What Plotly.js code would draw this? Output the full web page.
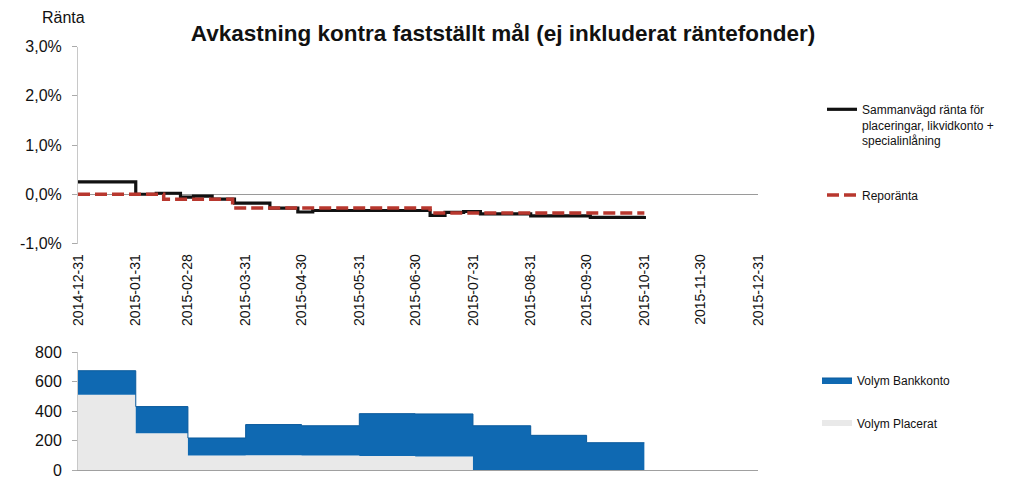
<!DOCTYPE html>
<html>
<head>
<meta charset="utf-8">
<script src="https://cdn.plot.ly/plotly-3.0.1.min.js"></script>
<style>html,body{margin:0;padding:0;background:#fff;}#chart{width:1033px;height:479px;}</style>
</head>
<body>
<div id="chart"></div>
<script>
// ---- data ----
const tickDates = ['2014-12-31','2015-01-31','2015-02-28','2015-03-31','2015-04-30','2015-05-31','2015-06-30','2015-07-31','2015-08-31','2015-09-30','2015-10-31','2015-11-30','2015-12-31'];
const rateTickVals = [-1, 0, 1, 2, 3];
const rateTickText = ['-1,0%', '0,0%', '1,0%', '2,0%', '3,0%'];
const volTickVals = [0, 200, 400, 600, 800];

const rateDates = ['2014-12-31','2015-01-31','2015-02-11','2015-02-24','2015-03-03','2015-03-13','2015-03-25','2015-04-13','2015-04-28','2015-05-06','2015-07-08','2015-07-16','2015-07-26','2015-08-04','2015-08-31','2015-10-02','2015-10-31'];
const sammanvagd = [0.25, 0.00, 0.02, -0.06, -0.04, -0.10, -0.18, -0.28, -0.36, -0.33, -0.43, -0.37, -0.35, -0.40, -0.44, -0.47, -0.44];

const repoDates = ['2014-12-31','2015-02-15','2015-03-24','2015-07-08','2015-10-31'];
const reporanta = [0.00, -0.10, -0.28, -0.38, -0.38];

const volDates = ['2014-12-31','2015-01-31','2015-02-28','2015-03-31','2015-04-30','2015-05-31','2015-06-30','2015-07-31','2015-08-31','2015-09-30','2015-10-31'];
const volPlacerat = [510, 250, 98, 100, 98, 95, 92, 0, 0, 0, 0];
const volBankkonto = [163, 180, 119, 208, 202, 287, 288, 300, 235, 185, 185];

// ---- layout helpers ----
const W = 1033, H = 479;
const px = v => v / W;
const py = v => (H - v) / H;
const FONT = 'Liberation Sans, Arial, sans-serif';

const traces = [
  {
    x: rateDates, y: sammanvagd, type: 'scatter', mode: 'lines',
    name: 'Sammanvägd ränta för<br>placeringar, likvidkonto +<br>specialinlåning',
    line: {color: '#111111', width: 3.2, shape: 'hv'},
    xaxis: 'x', yaxis: 'y', legend: 'legend', showlegend: true
  },
  {
    x: repoDates, y: reporanta, type: 'scatter', mode: 'lines',
    name: 'Reporänta',
    line: {color: '#b8372e', width: 3.5, shape: 'hv', dash: '12px,5px'},
    xaxis: 'x', yaxis: 'y', legend: 'legend2', showlegend: true
  },
  {
    x: volDates, y: volPlacerat, type: 'scatter', mode: 'none',
    name: 'Volym Placerat', stackgroup: 'vol',
    fillcolor: '#e9e9e9', line: {shape: 'hv', width: 0},
    xaxis: 'x2', yaxis: 'y2', legend: 'legend4', showlegend: true
  },
  {
    x: volDates, y: volBankkonto, type: 'scatter', mode: 'lines',
    name: 'Volym Bankkonto', stackgroup: 'vol',
    fillcolor: '#0f69b2', line: {shape: 'hv', width: 1, color: '#0a5a9c'},
    xaxis: 'x2', yaxis: 'y2', legend: 'legend3', showlegend: true
  }
];

const xRange = ['2014-12-31', '2015-12-31'];
const xDomain = [px(78), px(758)];

const legendBase = {
  bgcolor: 'rgba(0,0,0,0)', borderwidth: 0,
  font: {family: FONT, size: 12, color: '#111'},
  xanchor: 'left'
};

const layout = {
  width: W, height: H,
  margin: {l: 0, r: 0, t: 0, b: 0},
  showlegend: true,
  paper_bgcolor: '#ffffff', plot_bgcolor: 'rgba(0,0,0,0)',
  separators: ',.',
  font: {family: FONT, color: '#111'},
  title: {
    text: '<b>Avkastning kontra fastställt mål (ej inkluderat räntefonder)</b>',
    font: {family: FONT, size: 22.5, color: '#111'},
    x: px(503), xref: 'paper', xanchor: 'center',
    y: py(33), yref: 'container', yanchor: 'middle'
  },
  xaxis: {
    domain: xDomain, range: xRange, type: 'date', anchor: 'y',
    tickmode: 'array', tickvals: tickDates, ticktext: tickDates,
    tickangle: -90, ticks: '', showgrid: false, showline: false, zeroline: false,
    ticklabelstandoff: 7, ticklabeloverflow: 'allow',
    tickfont: {family: FONT, size: 14, color: '#111'}
  },
  yaxis: {
    domain: [py(243.5), py(46.5)], range: [-1, 3], anchor: 'x',
    tickmode: 'array', tickvals: rateTickVals, ticktext: rateTickText,
    ticks: 'outside', ticklen: 5, tickcolor: '#aaaaaa',
    showline: true, linecolor: '#c8c8c8', linewidth: 1,
    showgrid: false, zeroline: true, zerolinecolor: '#9a9a9a', zerolinewidth: 1,
    ticklabelstandoff: 7, ticklabeloverflow: 'allow',
    tickfont: {family: FONT, size: 16, color: '#111'}
  },
  xaxis2: {
    domain: xDomain, range: xRange, type: 'date', anchor: 'y2',
    showticklabels: false, ticks: '', showgrid: false, zeroline: false,
    showline: true, linecolor: '#a0a0a0', linewidth: 1
  },
  yaxis2: {
    domain: [py(470), py(352)], range: [0, 800], anchor: 'x2',
    tickmode: 'array', tickvals: volTickVals,
    ticks: 'outside', ticklen: 5, tickcolor: '#aaaaaa',
    showline: true, linecolor: '#c8c8c8', linewidth: 1,
    showgrid: false, zeroline: false,
    ticklabelstandoff: 7, ticklabeloverflow: 'allow',
    tickfont: {family: FONT, size: 16, color: '#111'}
  },
  legend: Object.assign({}, legendBase, {x: px(822), y: py(95), yanchor: 'top', valign: 'top'}),
  legend2: Object.assign({}, legendBase, {x: px(822), y: py(195), yanchor: 'middle'}),
  legend3: Object.assign({}, legendBase, {x: px(817), y: py(380), yanchor: 'middle'}),
  legend4: Object.assign({}, legendBase, {x: px(817), y: py(423), yanchor: 'middle'}),
  annotations: [
    {
      text: 'Ränta', xref: 'paper', yref: 'paper',
      x: px(63), y: py(17), xanchor: 'center', yanchor: 'middle',
      showarrow: false, font: {family: FONT, size: 16, color: '#111'}
    }
  ]
};

Plotly.newPlot('chart', traces, layout, {staticPlot: true, displayModeBar: false});
</script>
</body>
</html>
